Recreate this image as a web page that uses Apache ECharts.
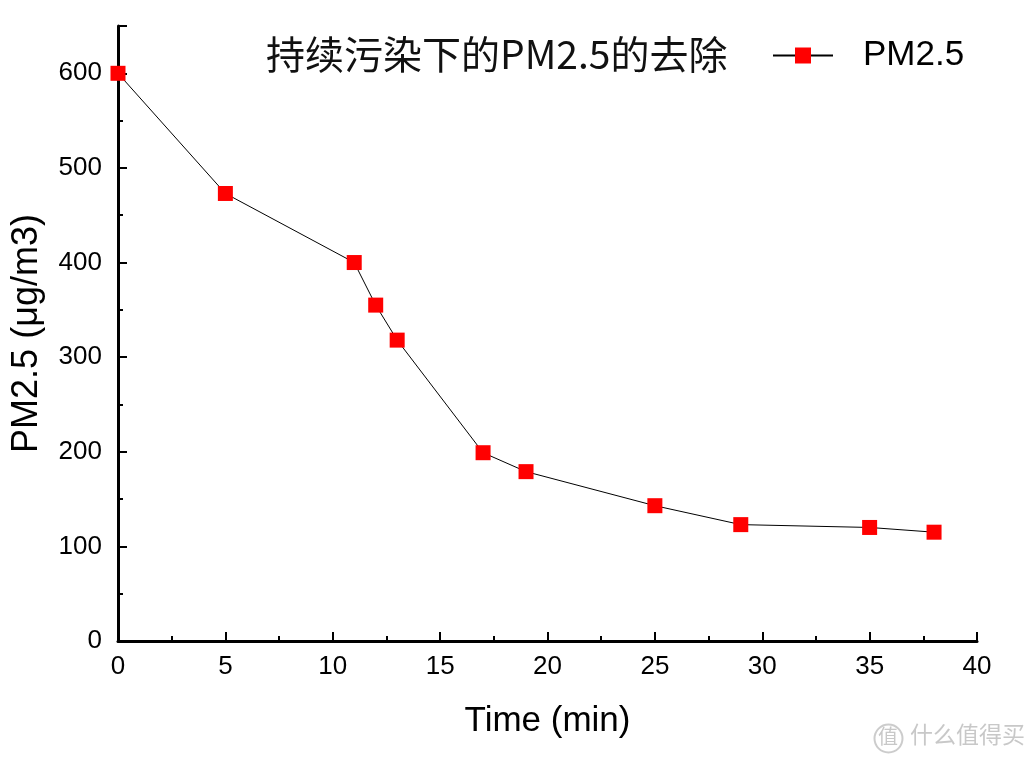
<!DOCTYPE html>
<html>
<head>
<meta charset="utf-8">
<script src="https://cdn.jsdelivr.net/npm/echarts@6/dist/echarts.min.js"></script>
<style>html,body{margin:0;padding:0;background:#fff}#c{width:1035px;height:762px}</style>
</head>
<body>
<div id="c"></div>
<script>
const timeMin = [0, 5, 11, 12, 13, 17, 19, 25, 29, 35, 38];
const pm25 = [600, 473, 400, 355, 318, 199, 179, 143, 123, 120, 115];
const titleText = '持续污染下的PM2.5的去除';
const seriesName = 'PM2.5';
const xName = 'Time (min)';
const yName = 'PM2.5 (μg/m3)';

const chart = echarts.init(document.getElementById('c'));
const axisFont = 'Liberation Sans, Arial, sans-serif';
chart.setOption({
  animation: false,
  backgroundColor: '#fff',
  title: {
    text: titleText,
    left: 261, top: 30,
    textStyle: {fontFamily: 'Noto Sans CJK SC', fontWeight: 'normal', fontSize: 39, color: '#111'}
  },
  legend: {
    data: [seriesName],
    left: 767, top: 33,
    itemWidth: 60, itemHeight: 20, itemGap: 10,
    textStyle: {fontFamily: axisFont, fontSize: 35, color: '#000', padding: [0,0,0,25]}
  },
  grid: {left: 118, right: 58, top: 26, bottom: 121, containLabel: false, outerBoundsMode: 'none'},
  xAxis: {
    type: 'value', min: 0, max: 40, interval: 5,
    name: xName, nameLocation: 'middle', nameGap: 63,
    nameTextStyle: {fontFamily: axisFont, fontSize: 35, color: '#000'},
    axisLine: {lineStyle: {color: '#000', width: 3}},
    axisTick: {inside: true, length: 9, lineStyle: {color: '#000', width: 2}},
    minorTick: {show: true, splitNumber: 2, length: 5, lineStyle: {color: '#000', width: 2}},
    splitLine: {show: false},
    axisLabel: {fontFamily: axisFont, fontSize: 26, color: '#000', margin: 13}
  },
  yAxis: {
    type: 'value', min: 0, max: 650, interval: 100,
    name: yName, nameLocation: 'middle', nameGap: 73,
    nameTextStyle: {fontFamily: axisFont, fontSize: 36, color: '#000'},
    axisLine: {show: true, lineStyle: {color: '#000', width: 3}},
    axisTick: {show: true, inside: true, length: 9, lineStyle: {color: '#000', width: 2}},
    minorTick: {show: true, splitNumber: 2, length: 5, lineStyle: {color: '#000', width: 2}},
    splitLine: {show: false},
    axisLabel: {fontFamily: axisFont, fontSize: 26, color: '#000', margin: 16,
      formatter: v => (v % 100 === 0 ? String(v) : '')}
  },
  series: [{
    name: seriesName,
    type: 'line',
    data: timeMin.map((t, i) => [t, pm25[i]]),
    symbol: 'rect', symbolSize: 15,
    itemStyle: {color: '#f00', borderWidth: 0},
    lineStyle: {color: '#000', width: 1},
    z: 3
  }],
  graphic: [
    {type: 'circle', left: 872, top: 722, shape: {r: 14}, style: {fill: 'none', stroke: '#ccc', lineWidth: 2}},
    {type: 'text', left: 878, top: 726, style: {text: '值', font: '20px "Noto Sans CJK SC"', fill: '#c8c8c8'}},
    {type: 'text', left: 910, top: 723, style: {text: '什么值得买', font: '23px "Noto Sans CJK SC"', fill: '#c8c8c8'}}
  ]
});
</script>
</body>
</html>
